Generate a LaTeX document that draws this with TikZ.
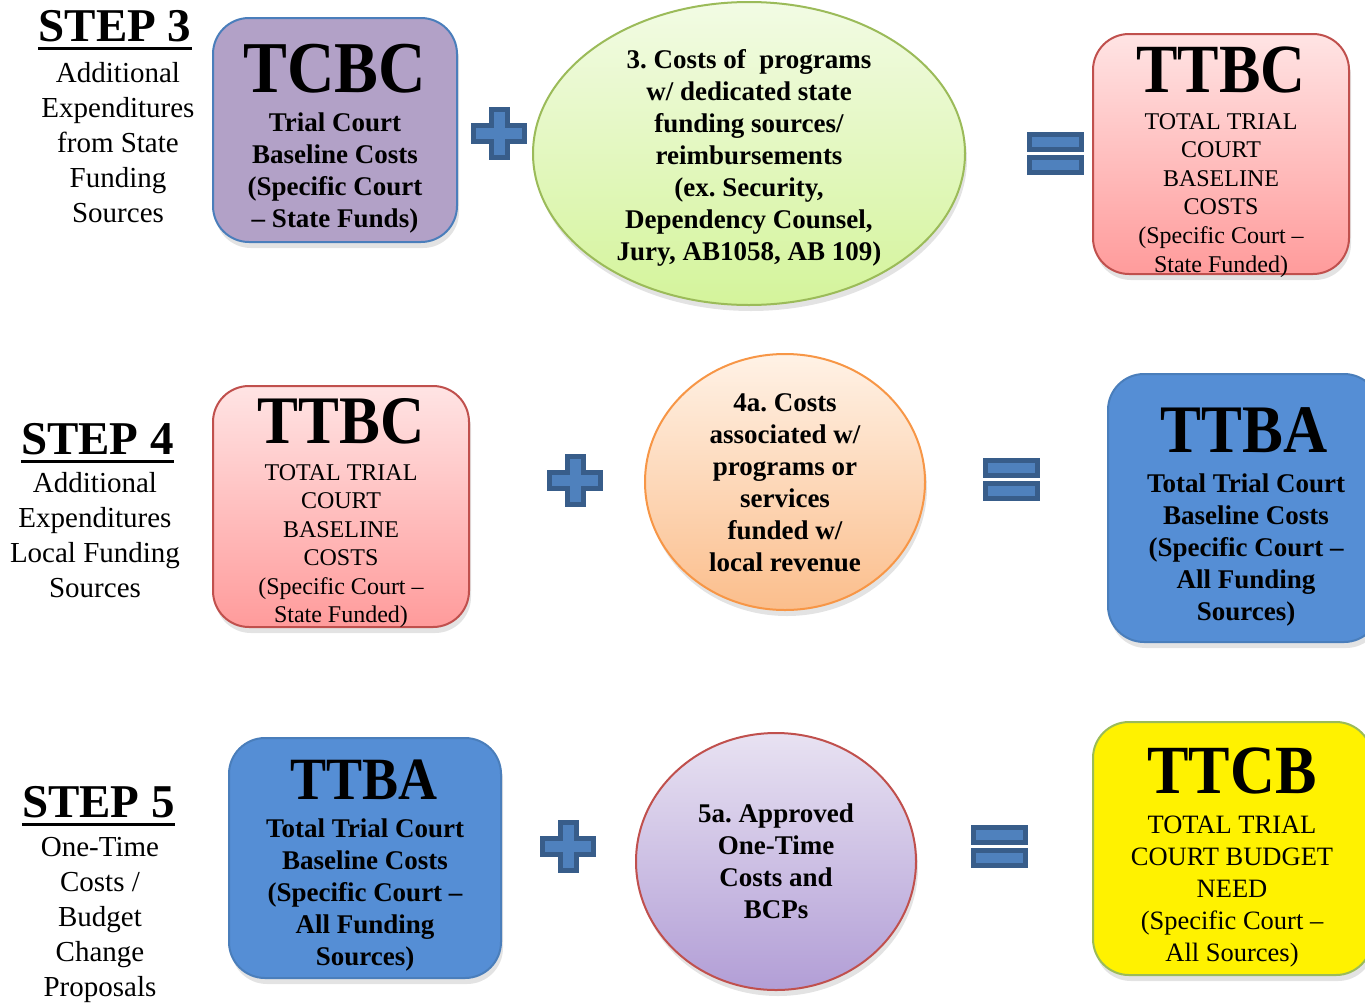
\documentclass[tikz,border=0pt]{standalone}
\usepackage{fontspec}
\setmainfont{Liberation Serif}
\newfontfamily\namefont[FakeStretch=0.9]{Liberation Serif}
\usepackage{tikz}
\usetikzlibrary{shapes.geometric, shadows}
\definecolor{signblue}{RGB}{79,129,189}
\definecolor{signdark}{RGB}{56,93,138}
\definecolor{lavender}{RGB}{178,161,199}
\definecolor{edgeblue}{RGB}{74,126,187}
\definecolor{pinktop}{RGB}{255,228,228}
\definecolor{pinkbottom}{RGB}{255,155,155}
\definecolor{edgered}{RGB}{192,80,77}
\definecolor{greentop}{RGB}{242,251,228}
\definecolor{greenbottom}{RGB}{212,244,155}
\definecolor{edgegreen}{RGB}{155,187,89}
\definecolor{orangetop}{RGB}{255,242,230}
\definecolor{orangebottom}{RGB}{251,190,140}
\definecolor{edgeorange}{RGB}{247,150,70}
\definecolor{boxblue}{RGB}{85,142,213}
\definecolor{purpletop}{RGB}{232,226,242}
\definecolor{purplebottom}{RGB}{178,158,214}

\tikzset{
  box/.style={draw, line width=2pt, rounded corners=36pt, inner sep=0pt,
    drop shadow={shadow xshift=2pt, shadow yshift=-6pt, opacity=0.22}},
  oval/.style={ellipse, draw, line width=2pt, inner sep=0pt,
    drop shadow={shadow xshift=2pt, shadow yshift=-6pt, opacity=0.22}},
  bigname/.style={font=\namefont\bfseries\fontsize{#1}{#1}\selectfont, inner sep=0pt, anchor=base},
  stephead/.style={font=\bfseries\fontsize{47}{47}\selectfont, inner sep=0pt, anchor=base},
  sidelines/.style={font=\fontsize{29}{35}\selectfont, align=center, inner sep=0pt, anchor=north},
  boldlines/.style={font=\bfseries\fontsize{27}{32}\selectfont, align=center, inner sep=0pt, anchor=north},
  sign/.style={fill=signblue, draw=signdark, line width=5pt}
}

\newcommand{\plussign}[1]{%
  \draw[sign, shift={#1}] (-8,-24) -- (8,-24) -- (8,-8) -- (25.5,-8) -- (25.5,8) -- (8,8)
    -- (8,24) -- (-8,24) -- (-8,8) -- (-25.5,8) -- (-25.5,-8) -- (-8,-8) -- cycle;}
\newcommand{\equalsign}[1]{%
  \draw[sign, shift={#1}] (-26,-19) rectangle (26,-4);
  \draw[sign, shift={#1}] (-26,4) rectangle (26,19);}

\begin{document}
\frenchspacing
\begin{tikzpicture}[x=1pt, y=-1pt]
        \useasboundingbox (0,0) rectangle (1365,1002);

        % Step 3
        \node[stephead] (step3) at (115,41) {STEP 3};
        \draw[line width=3.5pt] ([yshift=-7.5pt]step3.base west) -- ([yshift=-7.5pt]step3.base east);
        \node[sidelines] (step3-text) at (118,62) {Additional\\Expenditures\\from State\\Funding\\Sources};

        \node[box, draw=edgeblue, fill=lavender, minimum width=244pt, minimum height=224pt] (tcbc) at (335,130) {};
        \node[bigname=73] (tcbc-name) at (335,92) {TCBC};
        \node[boldlines] (tcbc-text) at (335,113) {Trial Court\\Baseline Costs\\(Specific Court\\– State Funds)};

        \plussign{(499,133.5)}

        \node[oval, draw=edgegreen, top color=greentop, bottom color=greenbottom, minimum width=432pt, minimum height=303pt] (state) at (749,153.5) {};
        \node[boldlines] (state-text) at (749,49.5) {3. Costs of~~programs\\w/ dedicated state\\funding sources/\\reimbursements\\(ex. Security,\\Dependency Counsel,\\Jury, AB1058, AB 109)};

        \equalsign{(1055,153.5)}

        \node[box, draw=edgered, top color=pinktop, bottom color=pinkbottom, minimum width=256pt, minimum height=240pt] (ttbc1) at (1221,154) {};
        \node[bigname=69] (ttbc1-name) at (1221,92) {TTBC};
        \node[sidelines, font=\fontsize{24}{28.6}\selectfont] (ttbc1-text) at (1221,113) {TOTAL TRIAL\\COURT\\BASELINE\\COSTS\\(Specific Court –\\State Funded)};

        % Step 4
        \node[stephead] (step4) at (97.5,454) {STEP 4};
        \draw[line width=3.5pt] ([yshift=-7.5pt]step4.base west) -- ([yshift=-7.5pt]step4.base east);
        \node[sidelines] (step4-text) at (95,472) {Additional\\Expenditures\\Local Funding\\Sources};

        \node[box, draw=edgered, top color=pinktop, bottom color=pinkbottom, minimum width=256pt, minimum height=241pt] (ttbc2) at (341,506.5) {};
        \node[bigname=68] (ttbc2-name) at (341,443) {TTBC};
        \node[sidelines, font=\fontsize{24}{28.5}\selectfont] (ttbc2-text) at (341,464) {TOTAL TRIAL\\COURT\\BASELINE\\COSTS\\(Specific Court –\\State Funded)};

        \plussign{(575,480)}

        \node[oval, draw=edgeorange, top color=orangetop, bottom color=orangebottom, minimum width=280pt, minimum height=256pt] (local) at (785,482) {};
        \node[boldlines] (local-text) at (785,393.5) {4a. Costs\\associated w/\\programs or\\services\\funded w/\\local revenue};

        \equalsign{(1011.5,479)}

        \node[box, draw=edgeblue, fill=boxblue, minimum width=272pt, minimum height=268pt] (ttba1) at (1244,508) {};
        \node[bigname=68] (ttba1-name) at (1244,452) {TTBA};
        \node[boldlines] (ttba1-text) at (1246,473.5) {Total Trial Court\\Baseline Costs\\(Specific Court –\\All Funding\\Sources)};

        % Step 5
        \node[stephead] (step5) at (98.5,817) {STEP 5};
        \draw[line width=3.5pt] ([yshift=-7.5pt]step5.base west) -- ([yshift=-7.5pt]step5.base east);
        \node[sidelines] (step5-text) at (100,837) {One-Time\\Costs /\\Budget\\Change\\Proposals};

        \node[box, draw=edgeblue, fill=boxblue, minimum width=272pt, minimum height=240pt] (ttba2) at (365,858) {};
        \node[bigname=60] (ttba2-name) at (364,799) {TTBA};
        \node[boldlines] (ttba2-text) at (365,818.5) {Total Trial Court\\Baseline Costs\\(Specific Court –\\All Funding\\Sources)};

        \plussign{(568,846.5)}

        \node[oval, draw=edgered, top color=purpletop, bottom color=purplebottom, minimum width=280pt, minimum height=257pt] (onetime) at (776,861.5) {};
        \node[boldlines] (onetime-text) at (776,803.5) {5a. Approved\\One-Time\\Costs and\\BCPs};

        \equalsign{(999.5,846.5)}

        \node[box, draw=edgegreen, fill=yellow, minimum width=279pt, minimum height=253pt] (ttcb) at (1232.5,848.5) {};
        \node[bigname=69] (ttcb-name) at (1232,793) {TTCB};
        \node[sidelines, font=\fontsize{26.5}{32}\selectfont] (ttcb-text) at (1232,815.5) {TOTAL TRIAL\\COURT BUDGET\\NEED\\(Specific Court –\\All Sources)};
    \end{tikzpicture}
\end{document}
